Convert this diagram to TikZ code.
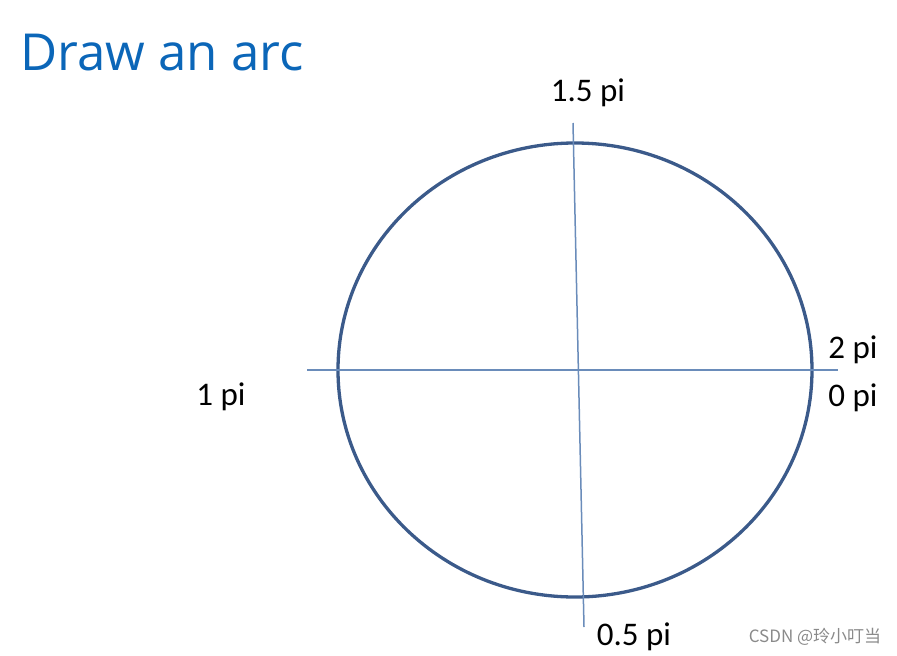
\documentclass[tikz,border=0pt]{standalone}
\usepackage{fontspec}
\setmainfont{Carlito}
\newfontfamily\titlefont{Open Sans}
\newfontfamily\cjkfont{Noto Sans CJK SC}
\definecolor{titleblue}{HTML}{0B66B8}
\definecolor{circblue}{HTML}{3B5A8A}
\definecolor{axisblue}{HTML}{6A8CBA}
\definecolor{wmgray}{HTML}{8A8A8A}
\begin{document}
\begin{tikzpicture}[x=1pt,y=-1pt,
  lbl/.style={font=\fontsize{33}{37}\selectfont, inner sep=0pt},
  axis/.style={draw=axisblue, line width=1.5pt},
  circ/.style={draw=circblue, line width=3.3pt}]
\useasboundingbox (0,0) rectangle (897,656);
\node[anchor=base west, inner sep=0pt, text=titleblue, font=\titlefont\fontsize{51}{56}\selectfont] (title) at (20,70) {Draw an arc};
\coordinate (c) at (575,370);
\draw[circ] (c) ellipse [x radius=237, y radius=227];
\coordinate (hl) at (307,370);
\coordinate (hr) at (838,370);
\coordinate (vt) at (573,123);
\coordinate (vb) at (584,627);
\draw[axis] (hl) -- (hr);
\draw[axis] (vt) -- (vb);
\node[lbl] (p15) at (588,93) {1.5 pi};
\node[lbl] (p2) at (853,350) {2 pi};
\node[lbl] (p0) at (853,398) {0 pi};
\node[lbl] (p1) at (221,397) {1 pi};
\node[lbl] (p05) at (634,637) {0.5 pi};
\node[text=wmgray, inner sep=0pt, font=\cjkfont\fontsize{17}{20}\selectfont] (wm) at (815,637) {CSDN @玲小叮当};
\end{tikzpicture}
\end{document}
